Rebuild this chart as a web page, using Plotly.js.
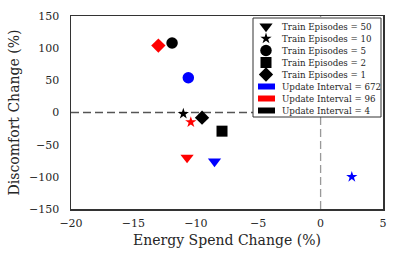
<!DOCTYPE html>
<html>
<head>
<meta charset="utf-8">
<script src="https://cdn.plot.ly/plotly-3.0.1.min.js"></script>
<style>html,body{margin:0;padding:0;background:#fff;}#chart{width:397px;height:260px;}</style>
</head>
<body>
<div id="chart"></div>
<script>
// Legend categories
const episodeLabels = [50, 10, 5, 2, 1];
const intervalLabels = [672, 96, 4];

// Points: update interval, training episodes, energy change (%), discomfort change (%)
const pointInterval = [672, 672, 672, 96, 96, 96, 4, 4, 4, 4];
const pointEpisodes = [50, 10, 5, 50, 10, 1, 10, 5, 2, 1];
const energyChange = [-8.5, 2.5, -10.6, -10.7, -10.4, -13.0, -11.0, -11.9, -7.9, -9.5];
const discomfortChange = [-76, -100, 54, -70, -15, 104, -2, 108, -29, -8];

const symbolFor = {50: 'triangle-down', 10: 'star', 5: 'circle', 2: 'square', 1: 'diamond'};
const sizeFor = {50: 11.5, 10: 8.5, 5: 11.5, 2: 11, 1: 11};
const colorFor = {672: '#0000ff', 96: '#ff0000', 4: '#000000'};

const serif = '"DejaVu Serif", serif';
const textColor = '#262626';
const traces = [];

// data points
traces.push({
  type: 'scatter', mode: 'markers', showlegend: false, hoverinfo: 'x+y',
  x: energyChange, y: discomfortChange,
  marker: {
    symbol: pointEpisodes.map(e => symbolFor[e]),
    size: pointEpisodes.map(e => sizeFor[e]),
    color: pointInterval.map(i => colorFor[i]),
    opacity: 1,
    line: {width: 0}
  }
});

// ---- manual legend, drawn in a pixel-like overlay axis (x2/y2) over the plot area ----
const plotW = 312, plotH = 193;
const legBox = {x0: 182, x1: 310, y0: 2, y1: 101};
const legRow0 = 10.5, legRowStep = 12;
const legMarkX = 195, legTextX = 209, legBar = [187, 204];

const legendLabels = episodeLabels.map(e => 'Train Episodes = ' + e)
  .concat(intervalLabels.map(i => 'Update Interval = ' + i));
const rowY = k => legRow0 + k * legRowStep;

traces.push({
  type: 'scatter', mode: 'markers', xaxis: 'x2', yaxis: 'y2', showlegend: false, hoverinfo: 'skip',
  x: episodeLabels.map(() => legMarkX), y: episodeLabels.map((e, k) => rowY(k)),
  marker: {symbol: episodeLabels.map(e => symbolFor[e]), size: episodeLabels.map(e => sizeFor[e]),
           color: '#000', opacity: 1, line: {width: 0}}
});
intervalLabels.forEach((i, k) => {
  const y = rowY(episodeLabels.length + k);
  traces.push({
    type: 'scatter', mode: 'lines', xaxis: 'x2', yaxis: 'y2', showlegend: false, hoverinfo: 'skip',
    x: legBar, y: [y, y], line: {color: colorFor[i], width: 6}
  });
});

const annotations = legendLabels.map((t, k) => ({
  xref: 'x2', yref: 'y2', x: legTextX, y: rowY(k), text: t, showarrow: false,
  xanchor: 'left', yanchor: 'middle', font: {family: serif, size: 8.7, color: textColor}
}));

const layout = {
  width: 397, height: 260,
  margin: {l: 71, r: 14, t: 16, b: 51},
  paper_bgcolor: '#fff', plot_bgcolor: '#fff',
  showlegend: false,
  font: {family: serif, color: textColor, size: 11},
  xaxis: {
    range: [-20, 5], tickvals: [-20, -15, -10, -5, 0, 5],
    showgrid: false, zeroline: false, showline: true, mirror: true,
    linecolor: '#333', linewidth: 1.5, ticks: '', ticklabelstandoff: 3,
    tickfont: {family: serif, size: 11, color: textColor},
    title: {text: 'Energy Spend Change (%)', font: {family: serif, size: 14, color: textColor}, standoff: 6}
  },
  yaxis: {
    range: [-150, 150], tickvals: [-150, -100, -50, 0, 50, 100, 150],
    showgrid: false, zeroline: false, showline: true, mirror: true,
    linecolor: '#333', linewidth: 1.5, ticks: '', ticklabelstandoff: 8,
    tickfont: {family: serif, size: 11, color: textColor},
    title: {text: 'Discomfort Change (%)', font: {family: serif, size: 14, color: textColor}, standoff: 6}
  },
  xaxis2: {overlaying: 'x', range: [0, plotW], visible: false, fixedrange: true},
  yaxis2: {overlaying: 'y', range: [plotH, 0], visible: false, fixedrange: true},
  shapes: [
    {type: 'line', xref: 'paper', x0: 0, x1: 1, yref: 'y', y0: 0, y1: 0,
     line: {color: '#555', width: 1.3, dash: '8px,4px'}, layer: 'below'},
    {type: 'line', yref: 'paper', y0: 0, y1: 1, xref: 'x', x0: 0, x1: 0,
     line: {color: '#999', width: 1.3, dash: '8px,4px'}, layer: 'below'},
    {type: 'rect', xref: 'x2', yref: 'y2', x0: legBox.x0, x1: legBox.x1, y0: legBox.y0, y1: legBox.y1,
     fillcolor: '#fff', line: {color: '#333', width: 1}, layer: 'below'}
  ],
  annotations: annotations
};

Plotly.newPlot('chart', traces, layout, {displayModeBar: false, staticPlot: true});
</script>
</body>
</html>
